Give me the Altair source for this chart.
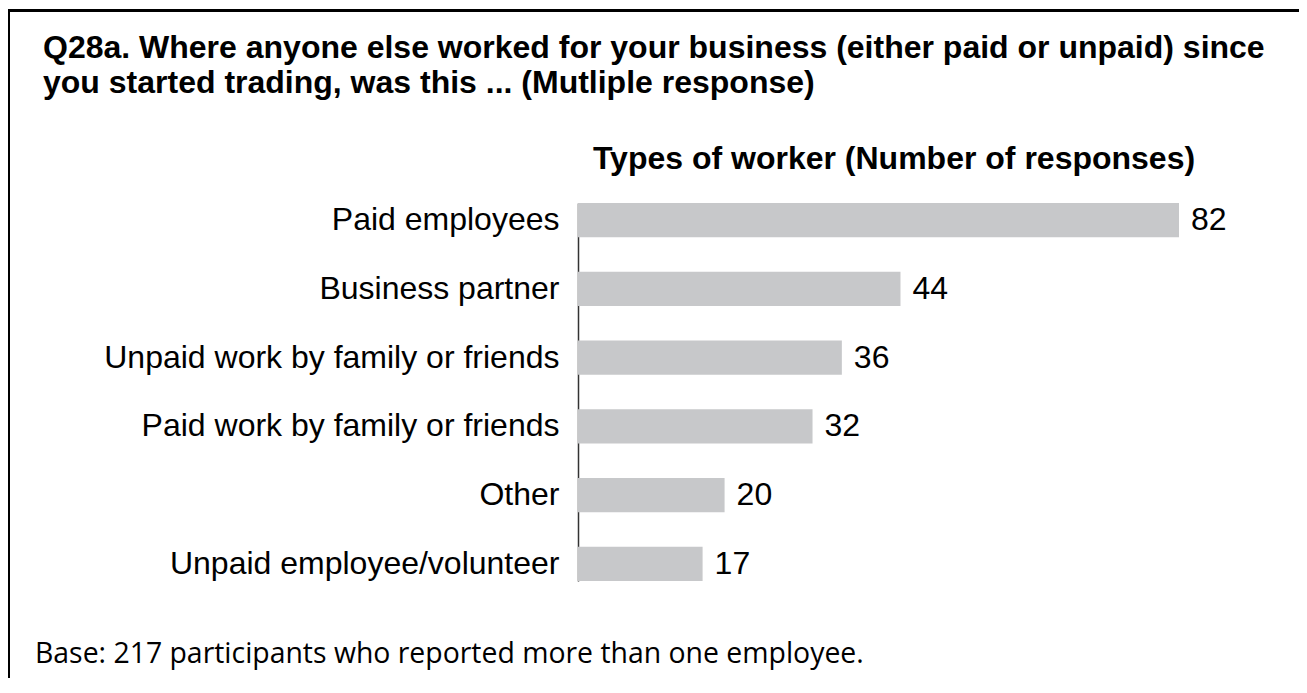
import altair as alt
import pandas as pd

categories = [
    "Paid employees",
    "Business partner",
    "Unpaid work by family or friends",
    "Paid work by family or friends",
    "Other",
    "Unpaid employee/volunteer",
]
responses = [82, 44, 36, 32, 20, 17]
title_lines = [
    "Q28a. Where anyone else worked for your business (either paid or unpaid) since",
    "you started trading, was this ... (Mutliple response)",
]
subtitle = "Types of worker (Number of responses)"
footnote = "Base: 217 participants who reported more than one employee."

df = pd.DataFrame({"category": categories, "responses": responses})

FONT = "Liberation Sans"

y_enc = alt.Y(
    "category:N",
    sort=categories,
    scale=alt.Scale(paddingInner=0.5, paddingOuter=0),
    axis=alt.Axis(
        title=None, ticks=False, tickSize=0, labelPadding=19, labelFontSize=32,
        labelFont=FONT, labelColor="black", domainColor="#333333", domainWidth=1.5,
        labelLimit=700, grid=False,
    ),
)
x_enc = alt.X("responses:Q", scale=alt.Scale(nice=False, zero=True), axis=None)

bars = alt.Chart(df).mark_bar(color="#c7c8ca").encode(x=x_enc, y=y_enc)
nums = alt.Chart(df).mark_text(
    align="left", baseline="middle", dx=12, fontSize=32, font=FONT, color="black"
).encode(x=x_enc, y=y_enc, text="responses:Q")


def text_layer(txt, x, y, size, weight="normal", align="left", font=FONT):
    return alt.Chart(pd.DataFrame({"t": [txt]})).mark_text(
        align=align, baseline="alphabetic", fontSize=size, fontWeight=weight,
        font=font, color="black",
    ).encode(x=alt.value(x), y=alt.value(y), text="t:N")


t1 = text_layer(title_lines[0], -535, -145, 32, "bold")
t2 = text_layer(title_lines[1], -535, -110, 32, "bold")
sub = text_layer(subtitle, 316, -34, 32, "bold", align="center")
foot = text_layer(footnote, -543, 460, 28.4, font="Open Sans")

frame_left = alt.Chart(pd.DataFrame({"a": [0]})).mark_rule(color="black", strokeWidth=3).encode(
    x=alt.value(-569.5), y=alt.value(-192.5), y2=alt.value(480)
)
frame_top = alt.Chart(pd.DataFrame({"a": [0]})).mark_rule(color="black", strokeWidth=3).encode(
    x=alt.value(-571), x2=alt.value(725), y=alt.value(-192.5)
)

chart = alt.layer(bars, nums, t1, t2, sub, foot, frame_left, frame_top).properties(
    width=601,
    height=378,
    padding={"left": 570, "top": 195, "right": 120, "bottom": 97},
    autosize=alt.AutoSizeParams(type="none"),
    background="white",
).configure_view(stroke=None)

chart.save("out.html", embed_options={"renderer": "svg", "actions": False})
